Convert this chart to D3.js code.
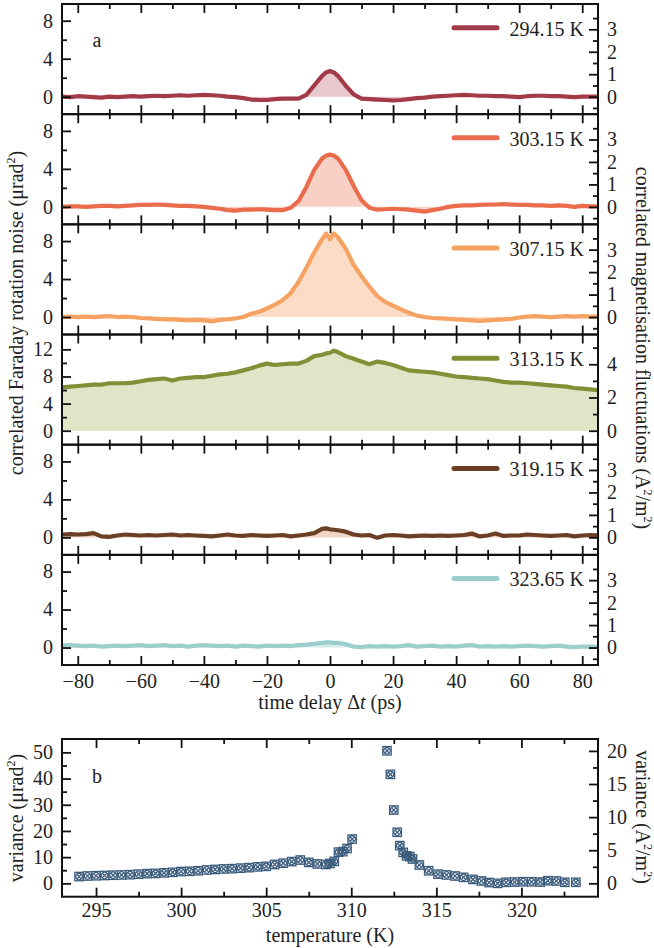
<!DOCTYPE html>
<html>
<head>
<meta charset="utf-8">
<script src="https://cdn.jsdelivr.net/npm/d3@7"></script>
<style>
  body { margin: 0; background: #fff; }
  svg text { font-family: "Liberation Serif", "Times New Roman", serif; fill: #222; }
</style>
</head>
<body>
<div id="chart"></div>
<script>
// time delays (ps) shared by all six traces
const delays = [-85,-82.5,-80,-77.5,-75,-72.5,-70,-67.5,-65,-62.5,
  -60,-57.5,-55,-52.5,-50,-47.5,-45,-42.5,-40,-37.5,
  -35,-32.5,-30,-27.5,-25,-22.5,-20,-17.5,-15,-12.5,
  -10,-7.5,-5,-2.5,-1.25,0,1.25,2.5,5,7.5,
  10,12.5,15,17.5,20,22.5,25,27.5,30,32.5,
  35,37.5,40,42.5,45,47.5,50,52.5,55,57.5,
  60,62.5,65,67.5,70,72.5,75,77.5,80,82.5,
  85];

// correlated Faraday rotation noise (urad^2)
const noise294 = [0.0,-0.05,0.05,0.0,-0.05,-0.1,0.0,-0.05,0.0,0.05,
  0.0,0.05,0.1,0.05,0.1,0.15,0.1,0.15,0.2,0.15,
  0.1,0.0,-0.05,-0.15,-0.3,-0.35,-0.35,-0.25,-0.2,-0.2,
  -0.2,0.2,1.2,2.2,2.55,2.7,2.55,2.2,1.15,0.25,
  -0.2,-0.25,-0.3,-0.35,-0.4,-0.35,-0.25,-0.15,-0.1,0.0,
  0.05,0.1,0.15,0.2,0.15,0.1,0.1,0.05,0.05,0.0,
  -0.05,0.05,0.1,0.1,0.05,0.05,0.0,-0.05,0.0,0.0,
  0.0];
const noise303 = [0.0,0.05,0.05,0.0,0.05,0.1,0.1,0.05,0.1,0.15,
  0.2,0.2,0.25,0.2,0.15,0.1,0.1,0.05,0.0,-0.1,
  -0.2,-0.35,-0.4,-0.3,-0.3,-0.25,-0.3,-0.35,-0.35,-0.1,
  0.6,2.1,3.9,5.1,5.4,5.5,5.4,5.1,3.9,2.2,
  0.7,-0.1,-0.3,-0.25,-0.2,-0.25,-0.3,-0.4,-0.5,-0.35,
  -0.2,0.0,0.1,0.15,0.15,0.2,0.25,0.25,0.3,0.25,
  0.2,0.2,0.15,0.15,0.1,0.15,0.1,0.0,0.1,0.05,
  0.05];
const noise307 = [0.0,0.05,0.0,0.05,0.0,0.05,0.1,0.0,0.05,0.0,
  -0.1,-0.15,-0.2,-0.25,-0.25,-0.3,-0.35,-0.3,-0.35,-0.45,
  -0.3,-0.25,-0.15,0.0,0.35,0.55,0.9,1.3,1.8,2.5,
  3.7,5.2,6.8,8.2,8.8,8.2,8.8,8.4,7.2,5.5,
  4.3,3.2,2.2,1.6,1.2,0.8,0.45,0.15,0.0,-0.1,
  -0.15,-0.2,-0.25,-0.3,-0.35,-0.4,-0.35,-0.3,-0.25,-0.2,
  -0.05,0.05,0.1,0.05,0.0,0.05,0.1,0.05,0.1,0.05,
  0.05];
const noise313 = [6.4,6.5,6.6,6.7,6.8,6.8,7.0,7.0,7.0,7.1,
  7.3,7.5,7.6,7.7,7.4,7.7,7.8,7.9,7.9,8.1,
  8.3,8.4,8.6,8.9,9.2,9.6,9.9,9.7,9.8,9.9,
  9.9,10.3,11.0,11.2,11.4,11.5,11.8,11.6,11.0,10.6,
  10.2,9.8,10.2,10.0,9.7,9.3,8.9,8.8,8.7,8.6,
  8.4,8.2,8.0,7.9,7.8,7.7,7.6,7.4,7.2,7.1,
  7.1,7.0,6.9,6.8,6.7,6.6,6.5,6.3,6.2,6.1,
  6.0];
const noise319 = [0.3,0.35,0.3,0.35,0.45,0.1,0.05,0.2,0.3,0.25,
  0.2,0.25,0.2,0.25,0.3,0.2,0.25,0.2,0.15,0.1,
  0.2,0.3,0.2,0.15,0.25,0.2,0.15,0.2,0.25,0.1,
  0.2,0.3,0.45,0.9,0.95,0.85,0.8,0.75,0.6,0.3,
  0.2,0.25,-0.05,0.2,0.25,0.2,0.1,0.15,0.2,0.15,
  0.2,0.15,0.2,0.25,0.4,0.1,0.2,0.4,0.15,0.2,
  0.2,0.3,0.25,0.2,0.15,0.2,0.25,0.1,0.2,0.25,
  0.2];
const noise323 = [0.2,0.25,0.2,0.15,0.2,0.1,0.15,0.2,0.15,0.2,
  0.25,0.15,0.2,0.25,0.15,0.2,0.1,0.2,0.25,0.2,
  0.15,0.2,0.1,0.2,0.15,0.1,0.2,0.15,0.2,0.15,
  0.25,0.3,0.4,0.5,0.55,0.55,0.5,0.5,0.35,0.1,
  0.05,0.15,0.1,0.15,0.1,0.15,0.25,0.1,0.15,0.2,
  0.1,0.15,0.1,0.2,0.25,0.1,0.15,0.1,0.15,0.1,
  0.15,0.2,0.15,0.1,0.15,0.2,0.1,0.05,0.1,0.1,
  0.1];

const traces = [noise294, noise303, noise307, noise313, noise319, noise323];
const traceLabels = ["294.15 K", "303.15 K", "307.15 K", "313.15 K", "319.15 K", "323.65 K"];
const lineColors = ["#a23a48", "#ea6c4c", "#f5a262", "#7f9137", "#6c3f24", "#9ccfcb"];
const fillColors = ["#e8c8cd", "#f8d0c5", "#fcdcc6", "#e0e5c8", "#f2d4c5", "#d3ebe9"];

// panel b: variance vs temperature
const tempK = [294,294.5,295,295.5,296,296.5,297,297.5,298,298.5,
  299,299.5,300,300.5,301,301.5,302,302.5,303,303.5,
  304,304.5,305,305.5,306,306.5,307,307.5,308,308.5,
  308.75,309,309.25,309.5,309.75,310.05,
  312.1,312.3,312.5,312.7,312.85,313.05,313.25,313.45,313.6,314,
  314.55,315.1,315.6,316.1,316.6,317.15,317.65,318.1,318.6,319.1,
  319.6,320.1,320.6,321.1,321.55,322.05,322.55,323.2];
const variance = [2.6,2.8,2.9,3.0,3.1,3.2,3.3,3.5,3.7,3.8,
  4.0,4.2,4.5,4.6,4.8,5.1,5.3,5.5,5.6,5.8,
  6.0,6.3,6.5,7.2,7.7,8.3,8.9,8.0,7.4,7.2,
  7.6,8.4,11.9,12.1,13.3,16.9,
  50.6,41.6,28.0,19.5,14.4,11.8,10.5,10.2,9.3,7.0,
  4.8,3.5,3.2,2.8,2.3,1.5,0.9,0.3,0.0,0.4,
  0.5,0.6,0.6,0.5,1.0,0.9,0.4,0.4];

const width = 654, height = 948;
const left = 62, right = 598;
const panelTop = 4, panelH = 110.17;
const fs = 20;

let svg = d3.select("#chart").append("svg")
    .attr("width", width).attr("height", height);

let x = d3.scaleLinear().domain([-85, 85]).range([left, right]);

function styleAxis(g){
    g.select(".domain").remove();
    g.selectAll("line").attr("stroke", "#111").attr("stroke-width", 1.8);
    g.selectAll("text").attr("font-size", fs).attr("fill", "#222")
        .style("font-family", "'Liberation Serif', serif");
}

// draws ticks of an axis inward; labels only if wanted
function ticks(g, axisFn, scale, values, len, labels, fmt, pad){
    let a = axisFn(scale).tickValues(values).tickSizeInner(-len).tickSizeOuter(0).tickPadding(pad || 9);
    if(!labels) a.tickFormat("");
    else if(fmt) a.tickFormat(fmt);
    g.call(a);
    styleAxis(g);
}

traces.forEach(function(vals, i){
    let y0 = panelTop + i*panelH, y1 = y0 + panelH;
    let big = (i === 3);
    let lDom = big ? [-2.06, 14.19] : [-1.84, 9.76];
    let ratio = big ? 2.45 : 2.365;
    let yL = d3.scaleLinear().domain(lDom).range([y1, y0]);
    let yR = d3.scaleLinear().domain([lDom[0]/ratio, lDom[1]/ratio]).range([y1, y0]);

    let pts = delays.map(function(d, k){ return {t: d, v: vals[k]}; });

    let clipId = "clip" + i;
    svg.append("clipPath").attr("id", clipId).append("rect")
        .attr("x", left).attr("y", y0).attr("width", right-left).attr("height", panelH);

    let g = svg.append("g").attr("clip-path", "url(#" + clipId + ")");
    let area = d3.area().x(function(d){ return x(d.t); }).y0(yL(0)).y1(function(d){ return yL(d.v); });
    let line = d3.line().x(function(d){ return x(d.t); }).y(function(d){ return yL(d.v); });
    g.append("path").attr("d", area(pts)).attr("fill", fillColors[i]);
    g.append("path").attr("d", line(pts)).attr("fill", "none")
        .attr("stroke", lineColors[i]).attr("stroke-width", 4.2).attr("stroke-linejoin", "round");

    // x ticks top and bottom
    let xMaj = [-80,-60,-40,-20,0,20,40,60,80], xMin = [-70,-50,-30,-10,10,30,50,70];
    ticks(svg.append("g").attr("transform", "translate(0," + y0 + ")"), d3.axisTop, x, xMaj, 9, false);
    ticks(svg.append("g").attr("transform", "translate(0," + y0 + ")"), d3.axisTop, x, xMin, 5, false);
    ticks(svg.append("g").attr("transform", "translate(0," + y1 + ")"), d3.axisBottom, x, xMaj, 9, i === 5);
    ticks(svg.append("g").attr("transform", "translate(0," + y1 + ")"), d3.axisBottom, x, xMin, 5, false);

    // left / right y ticks
    let lMaj = big ? [0,4,8,12] : [0,4,8];
    let lMin = big ? [2,6,10] : [2,6];
    let rMaj = big ? [0,2,4] : [0,1,2,3];
    let rMin = big ? [1,3,5] : [-0.5,0.5,1.5,2.5,3.5];
    ticks(svg.append("g").attr("transform", "translate(" + left + ",0)"), d3.axisLeft, yL, lMaj, 9, true, d3.format("d"));
    ticks(svg.append("g").attr("transform", "translate(" + left + ",0)"), d3.axisLeft, yL, lMin, 5, false);
    ticks(svg.append("g").attr("transform", "translate(" + right + ",0)"), d3.axisRight, yR, rMaj, 9, true, d3.format("d"));
    ticks(svg.append("g").attr("transform", "translate(" + right + ",0)"), d3.axisRight, yR, rMin, 5, false);

    svg.append("rect").attr("x", left).attr("y", y0).attr("width", right-left).attr("height", panelH)
        .attr("fill", "none").attr("stroke", "#111").attr("stroke-width", 2);

    // legend entry
    svg.append("line").attr("x1", 454).attr("x2", 497).attr("y1", y0+23.7).attr("y2", y0+23.7)
        .attr("stroke", lineColors[i]).attr("stroke-width", 5).attr("stroke-linecap", "round");
    svg.append("text").text(traceLabels[i]).attr("x", 584).attr("y", y0+31.5)
        .attr("text-anchor", "end").attr("font-size", fs);
});

svg.append("text").text("a").attr("x", 97).attr("y", 47).attr("text-anchor", "middle").attr("font-size", fs);

// axis titles for panel a
let ttl = svg.append("text").attr("transform", "translate(23,313) rotate(-90)")
    .attr("text-anchor", "middle").attr("font-size", fs);
ttl.append("tspan").text("correlated Faraday rotation noise (μrad");
ttl.append("tspan").text("2").attr("font-size", 12).attr("dy", -8);
ttl.append("tspan").text(")").attr("dy", 8);

let ttr = svg.append("text").attr("transform", "translate(636,348) rotate(90)")
    .attr("text-anchor", "middle").attr("font-size", fs);
ttr.append("tspan").text("correlated magnetisation fluctuations (A");
ttr.append("tspan").text("2").attr("font-size", 12).attr("dy", -8);
ttr.append("tspan").text("/m").attr("dy", 8);
ttr.append("tspan").text("2").attr("font-size", 12).attr("dy", -8);
ttr.append("tspan").text(")").attr("dy", 8);

let xt = svg.append("text").attr("x", 330).attr("y", 709).attr("text-anchor", "middle").attr("font-size", fs);
xt.append("tspan").text("time delay Δ");
xt.append("tspan").text("t").attr("font-style", "italic");
xt.append("tspan").text(" (ps)");

// ---------- panel b ----------
let bTop = 739, bBot = 896.7;
let xb = d3.scaleLinear().domain([293, 324.5]).range([left, right]);
let yb = d3.scaleLinear().domain([-5.1, 55.1]).range([bBot, bTop]);
let ybR = d3.scaleLinear().domain([-2.02, 21.8]).range([bBot, bTop]);

let bx = [295,300,305,310,315,320], bxMin = [297.5,302.5,307.5,312.5,317.5,322.5];
ticks(svg.append("g").attr("transform", "translate(0," + bTop + ")"), d3.axisTop, xb, bx, 9, false);
ticks(svg.append("g").attr("transform", "translate(0," + bTop + ")"), d3.axisTop, xb, bxMin, 5, false);
ticks(svg.append("g").attr("transform", "translate(0," + bBot + ")"), d3.axisBottom, xb, bx, 9, true, d3.format("d"), 6);
ticks(svg.append("g").attr("transform", "translate(0," + bBot + ")"), d3.axisBottom, xb, bxMin, 5, false);
ticks(svg.append("g").attr("transform", "translate(" + left + ",0)"), d3.axisLeft, yb, [0,10,20,30,40,50], 9, true, d3.format("d"));
ticks(svg.append("g").attr("transform", "translate(" + left + ",0)"), d3.axisLeft, yb, [5,15,25,35,45], 5, false);
ticks(svg.append("g").attr("transform", "translate(" + right + ",0)"), d3.axisRight, ybR, [0,5,10,15,20], 9, true, d3.format("d"));
ticks(svg.append("g").attr("transform", "translate(" + right + ",0)"), d3.axisRight, ybR, [2.5,7.5,12.5,17.5], 5, false);

let mk = svg.append("g").selectAll("g").data(tempK).enter().append("g")
    .attr("transform", function(d, k){ return "translate(" + xb(d) + "," + yb(variance[k]) + ")"; })
    .attr("stroke", "#3b5c7d").attr("stroke-width", 1.3).attr("fill", "none");
mk.append("rect").attr("x", -4.2).attr("y", -4.2).attr("width", 8.4).attr("height", 8.4);
mk.append("circle").attr("r", 3.3);
mk.append("path").attr("d", "M-2.4,-2.4L2.4,2.4M-2.4,2.4L2.4,-2.4");

svg.append("rect").attr("x", left).attr("y", bTop).attr("width", right-left).attr("height", bBot-bTop)
    .attr("fill", "none").attr("stroke", "#111").attr("stroke-width", 2);

svg.append("text").text("b").attr("x", 97).attr("y", 783).attr("text-anchor", "middle").attr("font-size", fs);

let bl = svg.append("text").attr("transform", "translate(23,818) rotate(-90)")
    .attr("text-anchor", "middle").attr("font-size", fs);
bl.append("tspan").text("variance (μrad");
bl.append("tspan").text("2").attr("font-size", 12).attr("dy", -8);
bl.append("tspan").text(")").attr("dy", 8);

let br = svg.append("text").attr("transform", "translate(636,817) rotate(90)")
    .attr("text-anchor", "middle").attr("font-size", fs);
br.append("tspan").text("variance (A");
br.append("tspan").text("2").attr("font-size", 12).attr("dy", -8);
br.append("tspan").text("/m").attr("dy", 8);
br.append("tspan").text("2").attr("font-size", 12).attr("dy", -8);
br.append("tspan").text(")").attr("dy", 8);

svg.append("text").text("temperature (K)").attr("x", 330).attr("y", 942)
    .attr("text-anchor", "middle").attr("font-size", fs);
</script>
</body>
</html>
